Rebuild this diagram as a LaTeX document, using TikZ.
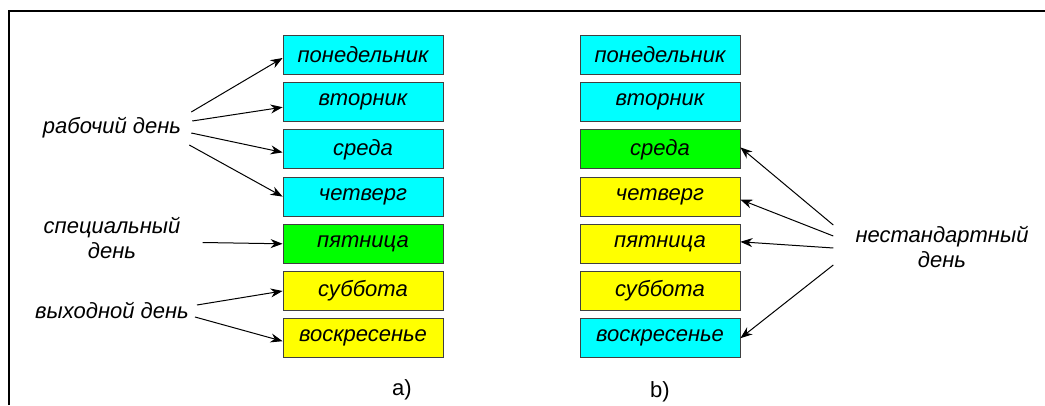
\documentclass[tikz,border=0pt]{standalone}
\usepackage{fontspec}
\setmainfont{Liberation Sans}
\usetikzlibrary{arrows.meta}
\definecolor{daycyan}{RGB}{0,255,255}
\definecolor{daygreen}{RGB}{0,255,0}
\definecolor{dayyellow}{RGB}{255,255,0}
\tikzset{
  day/.style={draw=black!75, line width=0.8pt, minimum width=160pt,
    minimum height=39pt, inner sep=0pt,
    font=\fontsize{22}{25}\selectfont\itshape},
  lbl/.style={inner sep=2pt, align=center,
    font=\fontsize{22}{25}\selectfont\itshape},
  arr/.style={-{Stealth[length=12pt,width=9pt]}, line width=1pt},
}
\begin{document}
\begin{tikzpicture}[x=1pt,y=1pt]
      \useasboundingbox (0,0) rectangle (1045,405);
      \draw[line width=1.5pt] (9,0) -- (9,394) -- (1045,394);
      % week a)
      \draw
        (363,350.0) node[day,fill=daycyan] (a1){понедельник}
        (363,302.8) node[day,fill=daycyan] (a2){вторник}
        (363,255.6) node[day,fill=daycyan] (a3){среда}
        (363,208.4) node[day,fill=daycyan] (a4){четверг}
        (363,161.2) node[day,fill=daygreen] (a5){пятница}
        (363,114.0) node[day,fill=dayyellow] (a6){суббота}
        (363,66.8) node[day,fill=dayyellow] (a7){воскресенье};
      % week b)
      \draw
        (660,350.0) node[day,fill=daycyan] (b1){понедельник}
        (660,302.8) node[day,fill=daycyan] (b2){вторник}
        (660,255.6) node[day,fill=daygreen] (b3){среда}
        (660,208.4) node[day,fill=dayyellow] (b4){четверг}
        (660,161.2) node[day,fill=dayyellow] (b5){пятница}
        (660,114.0) node[day,fill=dayyellow] (b6){суббота}
        (660,66.8) node[day,fill=daycyan] (b7){воскресенье};
      % labels
      \draw
        (112,277) node[lbl] (work){рабочий день}
        (112,167.5) node[lbl] (spec){специальный\\день}
        (112,95) node[lbl] (off){выходной день}
        (942,158) node[lbl] (odd){нестандартный\\день}
        (402,15) node (capa){\fontsize{22}{25}\selectfont a)}
        (660,13) node (capb){\fontsize{22}{25}\selectfont b)};
      \begin{scope}[arr]
        \draw ([xshift=8pt,yshift=16pt]work.east) to ([yshift=-3pt]a1.west);
        \draw ([xshift=9pt,yshift=7pt]work.east) to ([yshift=-5pt]a2.west);
        \draw ([xshift=8pt,yshift=-5pt]work.east) to ([yshift=-3pt]a3.west);
        \draw ([xshift=6pt,yshift=-17pt]work.east) to (a4.west);
        \draw ([xshift=20pt,yshift=-5pt]spec.east) to (a5.west);
        \draw ([xshift=6pt,yshift=5pt]off.east) to (a6.west);
        \draw ([xshift=4pt,yshift=-7pt]off.east) to ([yshift=-3pt]a7.west);
        \draw ([xshift=-20pt,yshift=22pt]odd.west) to ([yshift=2pt]b3.east);
        \draw ([xshift=-20pt,yshift=11pt]odd.west) to ([yshift=-3pt]b4.east);
        \draw ([xshift=-20pt,yshift=-1pt]odd.west) to ([yshift=2pt]b5.east);
        \draw ([xshift=-20pt,yshift=-18pt]odd.west) to (b7.east);
      \end{scope}
    \end{tikzpicture}
\end{document}
